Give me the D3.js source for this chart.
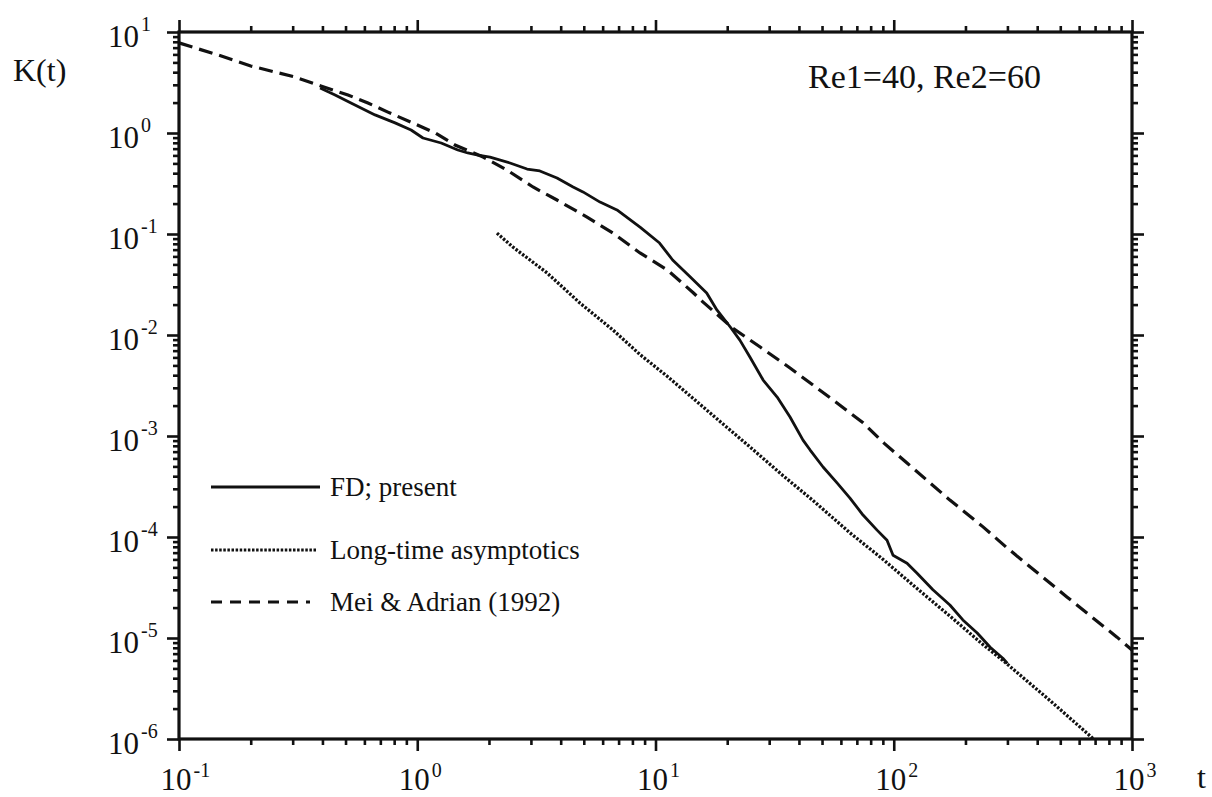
<!DOCTYPE html>
<html>
<head>
<meta charset="utf-8">
<script src="https://cdn.jsdelivr.net/npm/d3@7"></script>
<style>
  html, body { margin: 0; padding: 0; background: #fff; }
  svg { display: block; }
  text { font-family: "Liberation Serif", "DejaVu Serif", serif; fill: #111; }
</style>
</head>
<body>
<svg id="chart" width="1212" height="797"></svg>
<script>
// Decay of K(t): FD computation, long-time asymptotics and Mei & Adrian (1992)
const fdT = [0.391, 0.452, 0.527, 0.665, 0.807, 0.942, 1.057, 1.26, 1.48, 1.63, 1.80, 2.02, 2.45, 2.89, 3.27, 3.86, 4.51, 4.96, 5.85, 6.89, 8.61, 10.4, 11.8, 14.0, 16.4, 18.1, 20.6, 22.6, 24.9, 28.3, 32.4, 36.7, 41.6, 44.5, 50.5, 57.8, 65.5, 74.3, 85.1, 93.7, 99.3, 113.7, 125, 146, 172, 195, 224, 254, 287, 300];
const fdK = [2.79, 2.38, 1.98, 1.51, 1.26, 1.07, 0.892, 0.796, 0.679, 0.634, 0.605, 0.578, 0.505, 0.440, 0.421, 0.358, 0.292, 0.261, 0.207, 0.173, 0.117, 0.0814, 0.0553, 0.0375, 0.0261, 0.0177, 0.0120, 8.9e-3, 6.05e-3, 3.58e-3, 2.43e-3, 1.54e-3, 9.1e-4, 7.3e-4, 4.93e-4, 3.43e-4, 2.43e-4, 1.65e-4, 1.17e-4, 9.3e-5, 6.6e-5, 5.5e-5, 4.4e-5, 3.0e-5, 2.12e-5, 1.51e-5, 1.12e-5, 8.1e-6, 6.3e-6, 5.6e-6];

const asymT = [2.16, 2.52, 3.51, 4.82, 6.63, 8.61, 11.2, 14.4, 18.1, 24.9, 34.3, 45.8, 65.5, 90.2, 125, 172, 237, 287, 453, 690];
const asymK = [0.102, 0.0743, 0.0411, 0.0207, 0.0112, 6.4e-3, 3.9e-3, 2.35e-3, 1.48e-3, 7.8e-4, 4.05e-4, 2.3e-4, 1.10e-4, 6.0e-5, 3.1e-5, 1.65e-5, 8.6e-6, 6.0e-6, 2.4e-6, 1.0e-6];

const meiT = [0.1, 0.146, 0.2, 0.307, 0.394, 0.512, 0.621, 0.753, 0.942, 1.19, 1.44, 1.89, 2.38, 3.06, 3.86, 5.16, 6.63, 8.61, 11.2, 14.4, 15.8, 21.1, 27.5, 36.7, 47.6, 57.8, 74.3, 91, 113.7, 172, 237, 299, 533, 865, 1000];
const meiK = [7.8, 5.92, 4.61, 3.58, 2.92, 2.38, 1.98, 1.61, 1.28, 1.0, 0.761, 0.578, 0.430, 0.292, 0.217, 0.147, 0.102, 0.0649, 0.0441, 0.0262, 0.0213, 0.0117, 7.6e-3, 4.71e-3, 2.99e-3, 2.12e-3, 1.35e-3, 8.5e-4, 5.4e-4, 2.32e-4, 1.26e-4, 7.8e-5, 2.55e-5, 1.02e-5, 7.6e-6];

const xDecades = [-1, 0, 1, 2, 3];
const yDecades = [1, 0, -1, -2, -3, -4, -5, -6];
const legendLabels = ["FD; present", "Long-time asymptotics", "Mei & Adrian (1992)"];
const noteText = "Re1=40, Re2=60";

const svg = d3.select("#chart");
const plotLeft = 179, plotRight = 1132, plotTop = 32, plotBottom = 739;

const x = d3.scaleLog().domain([0.1, 1000]).range([plotLeft, plotRight]);
const y = d3.scaleLog().domain([1e-6, 10]).range([plotBottom, plotTop]);

const majorX = xDecades.map(p => Math.pow(10, p));
const majorY = yDecades.map(p => Math.pow(10, p));
const isMajor = v => Math.abs(Math.log10(v) - Math.round(Math.log10(v))) < 1e-9;
const minorX = x.ticks().filter(v => !isMajor(v));
const minorY = y.ticks().filter(v => !isMajor(v));

function styleAxis(g) {
  g.select(".domain").remove();
  g.selectAll(".tick line").attr("stroke", "#111").attr("stroke-width", 2.6);
  g.selectAll(".tick text").remove();
}

// minor and major ticks on all four sides, pointing outward
const axes = [
  [() => d3.axisBottom(x), `translate(0,${plotBottom})`, minorX, majorX],
  [() => d3.axisTop(x), `translate(0,${plotTop})`, minorX, majorX],
  [() => d3.axisLeft(y), `translate(${plotLeft},0)`, minorY, majorY],
  [() => d3.axisRight(y), `translate(${plotRight},0)`, minorY, majorY]
];
axes.forEach(([mk, tr, minor, major]) => {
  svg.append("g").attr("transform", tr)
    .call(mk().tickValues(minor).tickSize(6).tickSizeOuter(0).tickFormat(""))
    .call(styleAxis);
  svg.append("g").attr("transform", tr)
    .call(mk().tickValues(major).tickSize(12).tickSizeOuter(0).tickFormat(""))
    .call(styleAxis);
});

// frame
svg.append("rect")
  .attr("x", plotLeft).attr("y", plotTop)
  .attr("width", plotRight - plotLeft).attr("height", plotBottom - plotTop)
  .attr("fill", "none").attr("stroke", "#111").attr("stroke-width", 3.2);

// y tick labels: 10 with superscript exponent
yDecades.forEach(p => {
  const yy = y(Math.pow(10, p));
  svg.append("text").attr("x", 139).attr("y", yy + 15)
    .attr("text-anchor", "end").attr("font-size", 31).text("10");
  svg.append("text").attr("x", 141).attr("y", yy - 1)
    .attr("font-size", 20).text(p);
});

// x tick labels
xDecades.forEach(p => {
  const xx = x(Math.pow(10, p)) - 3;
  const base = svg.append("text").attr("x", xx).attr("y", 790)
    .attr("text-anchor", "middle").attr("font-size", 31).text("10");
  const w = base.node().getComputedTextLength();
  svg.append("text").attr("x", xx + w / 2 + 2).attr("y", 777)
    .attr("font-size", 20).text(p);
});

// axis titles
svg.append("text").attr("x", 13).attr("y", 81).attr("font-size", 32).text("K(t)");
svg.append("text").attr("x", 1197).attr("y", 788).attr("font-size", 32).text("t");

// annotation
svg.append("text").attr("x", 808).attr("y", 88).attr("font-size", 34).text(noteText);

// curves
const line = d3.line().x(d => x(d[0])).y(d => y(d[1]));
const plot = svg.append("g");

plot.append("path")
  .datum(meiT.map((t, i) => [t, meiK[i]]))
  .attr("d", line).attr("fill", "none").attr("stroke", "#111")
  .attr("stroke-width", 3.2).attr("stroke-dasharray", "14,7");

plot.append("path")
  .datum(asymT.map((t, i) => [t, asymK[i]]))
  .attr("d", line).attr("fill", "none").attr("stroke", "#111")
  .attr("stroke-width", 3.3).attr("stroke-dasharray", "2.5,1.6");

plot.append("path")
  .datum(fdT.map((t, i) => [t, fdK[i]]))
  .attr("d", line).attr("fill", "none").attr("stroke", "#111")
  .attr("stroke-width", 2.8).attr("stroke-linejoin", "round");

// legend
const legendRows = [
  { label: legendLabels[0], y: 487, dash: null, x2: 320 },
  { label: legendLabels[1], y: 550, dash: "2.5,1.6", x2: 316 },
  { label: legendLabels[2], y: 602, dash: "11,8", x2: 310 }
];
legendRows.forEach(r => {
  svg.append("line")
    .attr("x1", 211).attr("x2", r.x2).attr("y1", r.y).attr("y2", r.y)
    .attr("stroke", "#111").attr("stroke-width", r.dash === null ? 2.8 : 3.2)
    .attr("stroke-dasharray", r.dash);
  svg.append("text").attr("x", 330).attr("y", r.y + 9)
    .attr("font-size", 27).text(r.label);
});
</script>
</body>
</html>
